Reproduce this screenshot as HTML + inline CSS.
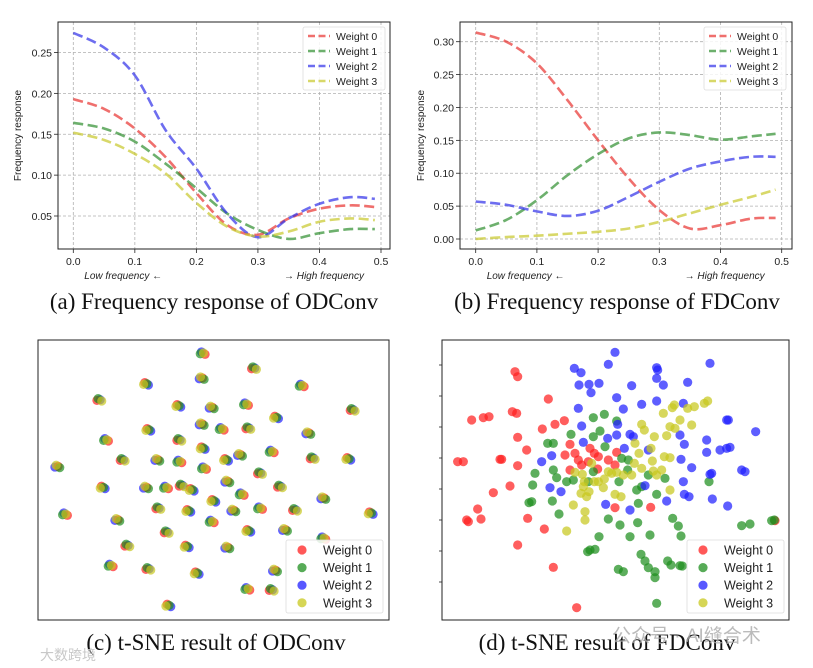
<!DOCTYPE html>
<html><head><meta charset="utf-8">
<style>
body{margin:0;background:#fff;}
svg{display:block;font-family:"Liberation Sans","DejaVu Sans",sans-serif;}
.cap{font-family:"Liberation Serif",serif;font-size:23px;fill:#111;}
</style></head>
<body>
<svg id="root" width="813" height="668" viewBox="0 0 813 668" xmlns="http://www.w3.org/2000/svg"></svg>
<script>
// ---------- Data: line charts ----------
const freqX = [0,0.05,0.1,0.15,0.2,0.25,0.3,0.35,0.4,0.45,0.49];
const odW0 = [0.193,0.181,0.157,0.122,0.078,0.039,0.027,0.047,0.059,0.063,0.061];
const odW1 = [0.164,0.157,0.141,0.114,0.084,0.053,0.033,0.022,0.029,0.034,0.034];
const odW2 = [0.274,0.256,0.222,0.155,0.108,0.053,0.024,0.047,0.065,0.073,0.071];
const odW3 = [0.152,0.143,0.126,0.102,0.066,0.037,0.025,0.031,0.043,0.047,0.045];
const fdW0 = [0.314,0.300,0.267,0.211,0.150,0.092,0.044,0.016,0.021,0.031,0.032];
const fdW1 = [0.013,0.029,0.059,0.097,0.129,0.153,0.162,0.158,0.151,0.156,0.160];
const fdW2 = [0.057,0.052,0.042,0.035,0.043,0.064,0.087,0.107,0.118,0.125,0.125];
const fdW3 = [0.000,0.003,0.005,0.008,0.011,0.016,0.026,0.039,0.052,0.064,0.075];
const xTicks = [0.0,0.1,0.2,0.3,0.4,0.5];
const xTickLabels = ["0.0","0.1","0.2","0.3","0.4","0.5"];
const odYTicks = [0.05,0.10,0.15,0.20,0.25];
const odYTickLabels = ["0.05","0.10","0.15","0.20","0.25"];
const fdYTicks = [0,0.05,0.10,0.15,0.20,0.25,0.30];
const fdYTickLabels = ["0.00","0.05","0.10","0.15","0.20","0.25","0.30"];
const seriesNames = ["Weight 0","Weight 1","Weight 2","Weight 3"];

// ---------- Data: t-SNE (arbitrary embedding units) ----------
const odClusterX = [51.8,67.2,34.8,51.5,81.5,20.8,44.5,54.5,64.8,96.8,73.8,51.5,57.5,65.5,35.5,83.5,22.8,44.8,51.8,38.2,44.8,27.8,58.8,63,72.5,84.8,95.5,8.2,52.2,69,21.8,34.8,40.8,45.5,48.5,59.2,63.5,75,55,88,10.5,38.5,47.5,61,69,79.5,102.2,26.2,54.5,41,65.5,76.5,88,29.2,47,59.2,24.2,35.5,50,73.5,65.2,72.5,41.5];
const odClusterY = [5.5,10,14.7,13,15.2,19.5,21.3,21.8,20.8,22.5,24.8,26.8,28.2,28,28.5,29.5,31.5,31.5,34,37.5,38,37.5,37.5,36,35,37,37.2,39.5,40,41.5,45.8,45.8,45.8,45.2,46.5,44,47.8,45.5,49.8,49,53.8,52,52.8,52.7,52,52.5,53.5,55.5,56,59.2,58.8,58.5,61,63.2,63.5,63.8,69.2,70.2,71.5,70.7,76.2,76.5,81.2];
const tsRedX = [24,24.8,11,14.5,16.2,23.2,24.5,34,32.2,36,38.8,24.8,27.5,40.5,39,42,43,46.5,47.8,44,40.5,46,49,52,54.5,54,48.8,6.8,8.5,19.5,20,24.8,22.5,17.5,12.8,9.5,13.8,10,27.8,32.8,24.8,35.5,42.5,54,64.7,102];
const tsRedY = [11,12.5,25.5,24.8,24.5,23,23.5,19.2,28.2,26.8,25.7,30.7,34.5,32.8,36,35.5,37.5,34,35.5,39,40.5,38,36.5,37.5,35.2,39,40.2,38,38,37.3,37.3,39.2,45.3,47.3,52.2,55.5,55.2,56,55,58.2,63,69.7,81.8,51.8,51.7,55.7];
const tsGreenX = [47.5,50.8,54.5,40.8,33.8,35.5,47.5,49.5,51,30,35.5,36.5,39.5,41.5,46,47.5,56,58,57.8,55.2,60.5,62,64,69,66.5,61,29.3,29,28.2,35.2,37.2,52,55.5,60.8,49.2,58.5,64.5,71.3,73,73.8,46.5,48,45.8,61.8,63,64,66,66,55,56.5,69.8,70.8,73.5,74.2,82.2,92,94.5,101,101.8,66.5];
const tsGreenY = [24.8,23.8,25.8,29.8,32.5,32.5,30.5,28.8,33.5,41.5,40.5,42.8,44,43.5,44,41,37,37.5,40.5,44,46.5,45.5,42,43,47.8,50.5,45,50,50.3,49.8,53.7,55.2,57,56.3,60.5,60.5,60,55,57.3,60.3,64.5,64.3,65,65.8,67.8,69.8,71,72.8,70.3,71,67.8,69,69.2,69.3,44,57.2,56.7,55.7,55.5,80.5];
const tsBlueX = [54,41.8,43.8,52,43.2,46.2,46.8,49.2,59,66.5,66.8,66.5,68.5,75.8,82.5,54.5,62,66.5,74.5,43,56.5,44,51.8,54.5,54.8,58.5,59.5,44.5,32,35,56.8,64,73.5,74.8,81.5,81.5,85.5,87.5,88.5,87.5,88,96.2,73.8,77,82.5,83,92,93,74.5,34.5,37.8,63,69.5,74.8,76.2,83.2,87.8,51.2,58.5];
const tsBlueY = [5.2,10,11.3,8.8,15,14.8,17.3,14.5,15.2,9.8,10.5,13,15,14.2,8.5,18.8,20.8,19.8,20.5,22,22.2,27.3,31,30,26.8,29.8,30.5,32.2,38,36.2,34,34.5,30,32.8,31.5,35.2,34.5,34,33.7,25.5,25.5,29,37.3,39.8,41.8,41.5,40.5,41,44,45.8,47,45.2,49.8,47.8,48.5,49.2,51.3,50.8,52.5];
const tsYellowX = [71.8,71.2,75.8,77.8,80.8,81.8,68.5,62,62.8,65.8,69.5,70.5,72,73.5,77,60,61.2,64.8,65.2,68.8,70.5,62,65.5,68,66.5,59.8,59,56.5,54.5,53,52,50.8,49,50.5,47,44.2,44.8,42,44.5,43.8,45.5,46.2,47.8,54,55.8,41.5,45,45,39.5,70.5];
const tsYellowY = [21,21.8,22,21.5,20.5,19.8,23.5,26.8,28.5,30.5,30.2,27.5,28,25.5,27,32.5,35.5,34,37.8,36.5,36.8,40,40.8,40.5,42,38.5,42,42,41.2,41.5,41,43.2,44,45.8,38.5,41.8,44,41.2,45.5,47.5,48.5,47,44,47.8,48.5,51,53,55.5,58.8,46.5];

const colorsLine = ["#e8322f","#2f8f2f","#2f2fe8","#c8c82a"];
const colorsDot = ["#ff2020","#1f8f1f","#2020ff","#c8c81e"];

const svg = document.getElementById('root');
const NS = "http://www.w3.org/2000/svg";
function mk(tag, attrs, parent){
  const e = document.createElementNS(NS, tag);
  for (const k in attrs) e.setAttribute(k, attrs[k]);
  (parent||svg).appendChild(e);
  return e;
}
function txt(s, attrs, parent){ const t = mk('text', attrs, parent); t.textContent = s; return t; }

function smoothPath(pts){
  let d = "M" + pts[0][0].toFixed(2) + "," + pts[0][1].toFixed(2);
  for (let i=0;i<pts.length-1;i++){
    const p0 = pts[i-1]||pts[i], p1=pts[i], p2=pts[i+1], p3=pts[i+2]||p2;
    const c1=[p1[0]+(p2[0]-p0[0])/6, p1[1]+(p2[1]-p0[1])/6];
    const c2=[p2[0]-(p3[0]-p1[0])/6, p2[1]-(p3[1]-p1[1])/6];
    d += " C"+c1[0].toFixed(2)+","+c1[1].toFixed(2)+" "+c2[0].toFixed(2)+","+c2[1].toFixed(2)+" "+p2[0].toFixed(2)+","+p2[1].toFixed(2);
  }
  return d;
}

function lineChart(cfg){
  const g = mk('g', {});
  
  
  const sx = v => cfg.x0 + (v - 0) / 0.5 * (cfg.x5 - cfg.x0);
  const sy = v => cfg.yA + (v - cfg.vA) / (cfg.vB - cfg.vA) * (cfg.yB - cfg.yA);
  xTicks.forEach((t,i)=>{
    const l = mk('line',{x1:sx(t),x2:sx(t),y1:cfg.top,y2:cfg.bot,stroke:"#b0b0b0","stroke-width":0.8,"stroke-dasharray":"3,2"},g);
    
    
    const tk = mk('line',{x1:sx(t),x2:sx(t),y1:cfg.bot,y2:cfg.bot+4,stroke:"#222","stroke-width":0.8},g);
    
    
    const tl = txt(xTickLabels[i],{x:sx(t),y:cfg.bot+16,"text-anchor":"middle","font-size":10.5,fill:"#222"},g);
    
    
  });
  cfg.yTicks.forEach((t,i)=>{
    const l = mk('line',{x1:cfg.left,x2:cfg.right,y1:sy(t),y2:sy(t),stroke:"#b0b0b0","stroke-width":0.8,"stroke-dasharray":"3,2"},g);
    
    
    const tk = mk('line',{x1:cfg.left-4,x2:cfg.left,y1:sy(t),y2:sy(t),stroke:"#222","stroke-width":0.8},g);
    
    
    const tl = txt(cfg.yLabels[i],{x:cfg.left-6,y:sy(t)+4,"text-anchor":"end","font-size":10.5,fill:"#222"},g);
    
    
  });
  cfg.series.forEach((arr,si)=>{
    const pts = freqX.map((x,i)=>[sx(x), sy(arr[i])]);
    const p = mk('path',{d:smoothPath(pts),fill:"none",stroke:colorsLine[si],"stroke-opacity":0.7,"stroke-width":2.6,"stroke-dasharray":"10,4.5"},g);
    
    
  });
  const fr = mk('rect',{x:cfg.left,y:cfg.top,width:cfg.right-cfg.left,height:cfg.bot-cfg.top,fill:"none",stroke:"#222","stroke-width":1},g);
  
  
  const yl = txt("Frequency response",{x:0,y:0,transform:"translate("+cfg.ylabX+","+((cfg.top+cfg.bot)/2)+") rotate(-90)","text-anchor":"middle","font-size":10,fill:"#222"},g);
  
  
  const lo = txt("Low frequency \u2190",{x:cfg.x0+11,y:cfg.bot+30,"font-size":10,"font-style":"italic",fill:"#222"},g);
  
  
  const hi = txt("\u2192 High frequency",{x:cfg.x5-17,y:cfg.bot+30,"font-size":10,"font-style":"italic",fill:"#222","text-anchor":"end"},g);
  
  
  const lg = mk('g',{},g);
  
  
  mk('rect',{x:cfg.legX,y:27,width:82,height:63,rx:2,fill:"#fff","fill-opacity":0.85,stroke:"#ddd","stroke-width":0.8},lg);
  seriesNames.forEach((n,i)=>{
    const e = mk('g',{},lg);
    
    
    const y = 36 + i*15;
    mk('line',{x1:cfg.legX+5,x2:cfg.legX+27,y1:y,y2:y,stroke:colorsLine[i],"stroke-opacity":0.7,"stroke-width":2.6,"stroke-dasharray":"7,3.5"},e);
    txt(n,{x:cfg.legX+33,y:y+4,"font-size":10.5,fill:"#222"},e);
  });
}

lineChart({name:"odconv-frequency-chart",left:58,right:390,top:22,bot:249,x0:73.3,x5:381,yA:216,vA:0.05,yB:52.5,vB:0.25,
  yTicks:odYTicks,yLabels:odYTickLabels,series:[odW0,odW1,odW2,odW3],ylabX:21,legX:303});
lineChart({name:"fdconv-frequency-chart",left:460,right:792,top:22,bot:249,x0:475.7,x5:781.7,yA:239,vA:0,yB:41.7,vB:0.30,
  yTicks:fdYTicks,yLabels:fdYTickLabels,series:[fdW0,fdW1,fdW2,fdW3],ylabX:424,legX:704});

function scatterFrame(name){
  const g = mk('g',{});
  
  
  return g;
}
function legendScatter(g,lx,ly){
  const lg = mk('g',{},g);
  
  
  mk('rect',{x:lx,y:ly,width:97,height:73,rx:2,fill:"#fff","fill-opacity":0.85,stroke:"#ddd","stroke-width":0.8},lg);
  seriesNames.forEach((n,i)=>{
    const e = mk('g',{},lg);
    
    
    const y = ly + 10 + i*17.6;
    mk('circle',{cx:lx+16,cy:y,r:4.6,fill:colorsDot[i],"fill-opacity":0.75},e);
    txt(n,{x:lx+37,y:y+4.5,"font-size":12.5,fill:"#222"},e);
  });
}
(function(){
  const g = scatterFrame("odconv-tsne-plot");
  const sx = v => 30 + v*10/3, sy = v => 335 + v*10/3;
  const offs = [[2.4,1.0],[-2.4,0.4],[-1.2,-1.4],[0.8,-0.3]];
  odClusterX.forEach((cx,i)=>{
    const cg = mk('g',{},g);
    
    
    const rot = i % 4;
    [2,0,1,3].forEach(w=>{
      const o = offs[(w+rot)%4];
      mk('circle',{cx:sx(cx)+o[0],cy:sy(odClusterY[i])+o[1],r:4.6,fill:colorsDot[w],"fill-opacity":0.7},cg);
    });
  });
  const fr = mk('rect',{x:38,y:340,width:351,height:280,fill:"none",stroke:"#222","stroke-width":1},g);
  
  
  legendScatter(g,286,540);
})();
(function(){
  const g = scatterFrame("fdconv-tsne-plot");
  const sx = v => 435 + v*10/3, sy = v => 335 + v*10/3;
  const sets = [[tsRedX,tsRedY],[tsGreenX,tsGreenY],[tsBlueX,tsBlueY],[tsYellowX,tsYellowY]];
  sets.forEach((s,w)=>{
    s[0].forEach((x,i)=>{
      const c = mk('circle',{cx:sx(x),cy:sy(s[1][i]),r:4.6,fill:colorsDot[w],"fill-opacity":0.72},g);
      
      
    });
  });
  for (let k=0;k<8;k++){ mk('line',{x1:439,x2:442,y1:365+k*31,y2:365+k*31,stroke:"#222","stroke-width":0.8},g); }
  const fr = mk('rect',{x:442,y:340,width:347,height:280,fill:"none",stroke:"#222","stroke-width":1},g);
  
  
  legendScatter(g,687,540);
})();

[["(a) Frequency response of ODConv",214,309,"caption-a"],["(b) Frequency response of FDConv",617,309,"caption-b"],
 ["(c) t-SNE result of ODConv",216,650,"caption-c"],["(d) t-SNE result of FDConv",607,650,"caption-d"]].forEach(c=>{
  const t = txt(c[0],{x:c[1],y:c[2],"text-anchor":"middle",class:"cap"});
  
  
});
const wm1 = txt("大数跨境",{x:40,y:660,"font-size":14,fill:"#c8c8c8","font-family":"'Noto Sans CJK SC',sans-serif"});


const wm2 = txt("公众号 · AI缝合术",{x:612,y:642,"font-size":19,fill:"#aaaaaa","fill-opacity":0.8,"font-family":"'Liberation Sans','Noto Sans CJK SC',sans-serif"});


</script>
</body></html>
